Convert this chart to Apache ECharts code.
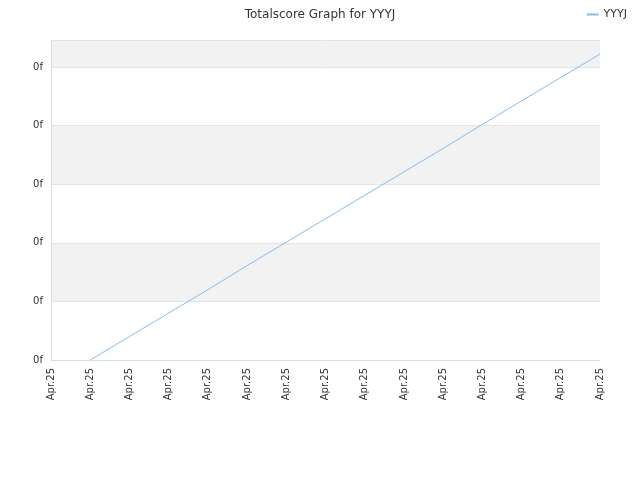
<!DOCTYPE html>
<html><head><meta charset="utf-8">
<script src="https://cdn.jsdelivr.net/npm/echarts@6/dist/echarts.min.js"></script>
<style>html,body{margin:0;padding:0;}#c{width:640px;height:480px;}</style>
</head><body><div id="c"></div>
<script>
const categories = ["Apr.25","Apr.25","Apr.25","Apr.25","Apr.25","Apr.25","Apr.25","Apr.25","Apr.25","Apr.25","Apr.25","Apr.25","Apr.25","Apr.25","Apr.25"];
const scores = [null,0,0.40,0.80,1.20,1.61,2.01,2.41,2.81,3.21,3.61,4.02,4.42,4.82,5.22];
const yLabel = "0f";
const chart = echarts.init(document.getElementById('c'));
chart.setOption({
  animation:false,
  title:{text:"Totalscore Graph for YYYJ",left:'center',top:4,textStyle:{fontSize:12,fontWeight:'normal',color:'#333',fontFamily:'DejaVu Sans'}},
  legend:{right:8,top:4,itemWidth:12,itemHeight:2,icon:'rect',textStyle:{fontSize:11,color:'#333',fontFamily:'DejaVu Sans'},data:['YYYJ']},
  grid:{left:51,right:40,top:40,bottom:120},
  xAxis:{type:'category',data:categories,boundaryGap:false,
    axisLine:{lineStyle:{color:'#ddd'}},axisTick:{show:false},
    axisLabel:{rotate:90,interval:0,fontSize:10,color:'#333',fontFamily:'DejaVu Sans'},
    splitLine:{show:false}},
  yAxis:{type:'value',min:0,max:5.46,interval:1,
    axisLine:{show:true,lineStyle:{color:'#ddd'}},axisTick:{show:false},
    axisLabel:{formatter:function(v){return v>5.4?'':yLabel;},fontSize:10,color:'#333',fontFamily:'DejaVu Sans'},
    splitLine:{lineStyle:{color:'#e4e4e4'}},
    splitArea:{show:true,areaStyle:{color:['#ffffff','#f2f2f2']}}},
  series:[{name:'YYYJ',type:'line',data:scores,showSymbol:false,lineStyle:{color:'#88bbee',width:1},itemStyle:{color:'#88bbee'}}]
});
</script></body></html>
